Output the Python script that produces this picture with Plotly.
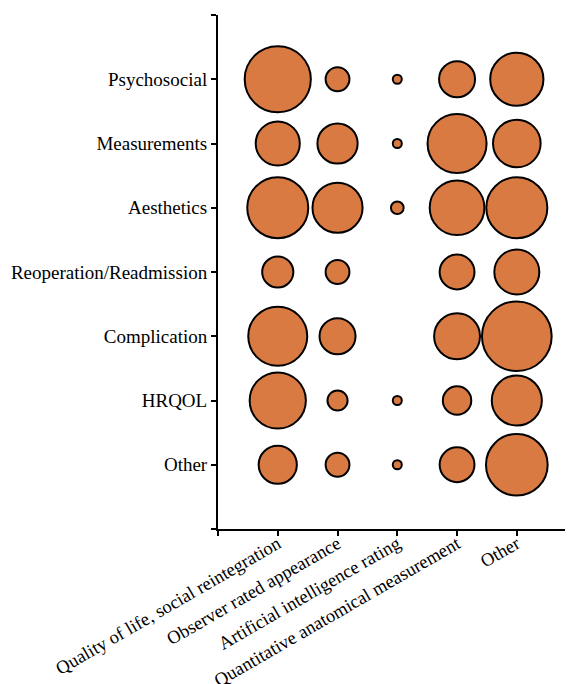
import plotly.graph_objects as go

outcomes = ["Psychosocial", "Measurements", "Aesthetics", "Reoperation/Readmission",
            "Complication", "HRQOL", "Other"]
methods = ["Quality of life, social reintegration", "Observer rated appearance",
           "Artificial intelligence rating", "Quantitative anatomical measurement", "Other"]

# counts per outcome row, one value per method column
psychosocial = [54, 7, 1, 16, 35]
measurements = [24, 20, 1, 43, 28]
aesthetics = [46, 31, 2, 37, 46]
reoperation = [12, 7, 0, 15, 25]
complication = [43, 16, 0, 26, 60]
hrqol = [39, 5, 1, 10, 31]
other = [18, 7, 1, 15, 47]

rows = [psychosocial, measurements, aesthetics, reoperation, complication, hrqol, other]

xs, ys, vs = [], [], []
for yi, row in enumerate(rows):
    for xi, v in enumerate(row):
        if v > 0:
            xs.append(xi)
            ys.append(yi)
            vs.append(v)

fig = go.Figure(go.Scatter(
    x=xs, y=ys, mode="markers",
    marker=dict(size=vs, sizemode="area", sizeref=2 / 81,
                color="#D97A43", line=dict(color="black", width=2), opacity=1),
    cliponaxis=False, hoverinfo="skip",
))

family = "Liberation Serif, Times New Roman, serif"
yfont = dict(family=family, size=19, color="black")
xfont = dict(family=family, size=18.5, color="black")

fig.update_layout(
    width=565, height=676,
    margin=dict(l=210, r=0, t=7, b=155),
    paper_bgcolor="white", plot_bgcolor="white",
    showlegend=False,
    font=yfont,
    xaxis=dict(range=[-1, 4.94], tickvals=[-1] + list(range(len(methods))),
               ticktext=[""] + methods, tickangle=-30, ticklabelstandoff=-10,
               showline=True, linecolor="black", linewidth=2,
               ticks="outside", ticklen=5, tickwidth=2, tickcolor="black",
               showgrid=False, zeroline=False, automargin=False, tickfont=xfont),
    yaxis=dict(range=[7, -1], tickvals=[-1] + list(range(len(outcomes))) + [7],
               ticktext=[""] + outcomes + [""],
               showline=True, linecolor="black", linewidth=2,
               ticks="outside", ticklen=5, tickwidth=2, tickcolor="black",
               showgrid=False, zeroline=False, automargin=False, tickfont=yfont),
)

fig.write_html("out.html")
